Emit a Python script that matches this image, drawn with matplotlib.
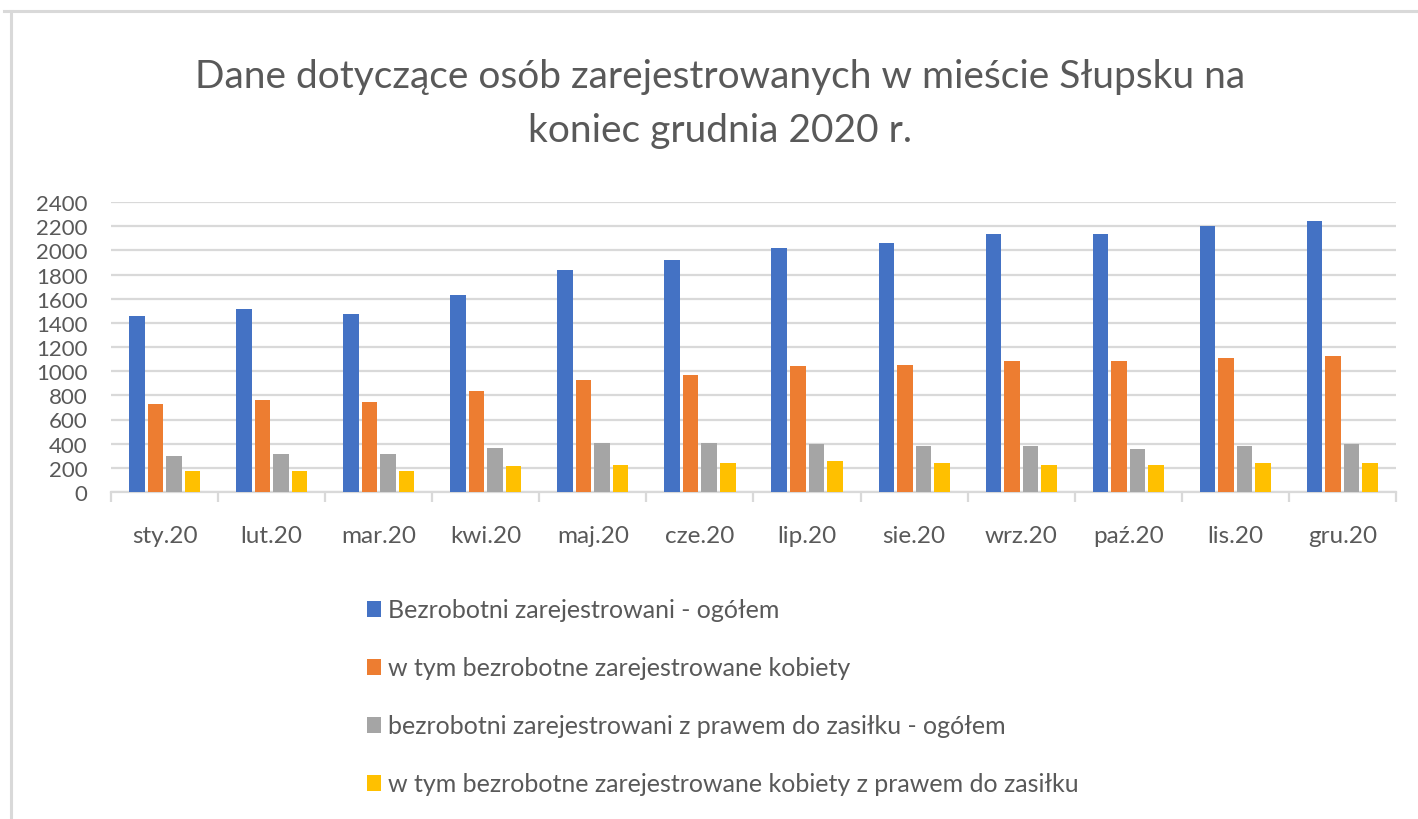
import matplotlib
matplotlib.use("Agg")
import matplotlib.pyplot as plt
from matplotlib.lines import Line2D
import numpy as np
from matplotlib import font_manager

names = {f.name for f in font_manager.fontManager.ttflist}
fam = [f for f in ["Lato", "DejaVu Sans"] if f in names]
plt.rcParams['font.family'] = fam

months = ["sty.20", "lut.20", "mar.20", "kwi.20", "maj.20", "cze.20",
          "lip.20", "sie.20", "wrz.20", "paź.20", "lis.20", "gru.20"]
ogolem = [1460, 1518, 1474, 1628, 1839, 1921, 2018, 2062, 2134, 2134, 2201, 2242]
kobiety = [730, 760, 746, 832, 929, 970, 1040, 1053, 1081, 1081, 1109, 1122]
zasilek = [296, 312, 312, 368, 409, 409, 395, 382, 382, 354, 382, 395]
kobiety_zasilek = [171, 171, 171, 213, 227, 240, 254, 240, 227, 227, 240, 240]

labels = ["Bezrobotni zarejestrowani - ogółem",
          "w tym bezrobotne zarejestrowane kobiety",
          "bezrobotni zarejestrowani z prawem do zasiłku - ogółem",
          "w tym bezrobotne zarejestrowane kobiety z prawem do zasiłku"]
colors = ["#4472C4", "#ED7D31", "#A5A5A5", "#FFC000"]
series = [ogolem, kobiety, zasilek, kobiety_zasilek]
title = "Dane dotyczące osób zarejestrowanych w mieście Słupsku na\nkoniec grudnia 2020 r."

W, H = 1418, 820
fig = plt.figure(figsize=(W / 100, H / 100), dpi=100)
ax = fig.add_axes([111 / W, 1 - 493 / H, (1396 - 111) / W, (493 - 203) / H])

x = np.arange(len(months))
step = 0.173
bw = 0.145
handles = []
for i, (vals, c, lab) in enumerate(zip(series, colors, labels)):
    h = ax.bar(x + (i - 1.5) * step, vals, width=bw, color=c, label=lab, zorder=3)
    handles.append(h)

ax.set_xlim(-0.5, len(months) - 0.5)
ax.set_ylim(0, 2400)
ax.set_yticks(np.arange(0, 2401, 200))
ax.yaxis.grid(True, color="#d9d9d9", linewidth=1.6, zorder=0)
ax.set_axisbelow(True)
for s in ["top", "right", "left"]:
    ax.spines[s].set_visible(False)
ax.spines["bottom"].set_color("#d9d9d9")
ax.spines["bottom"].set_linewidth(1.6)
ax.tick_params(axis="y", length=0, labelsize=16, labelcolor="#595959", pad=17)
ax.set_xticks(x)
ax.set_xticklabels(months)
ax.tick_params(axis="x", which="major", length=0, labelsize=17.5, labelcolor="#595959", pad=24)
ax.set_xticks(np.arange(-0.5, len(months), 1), minor=True)
ax.tick_params(axis="x", which="minor", length=7, width=1.6, color="#d9d9d9")

fig.text(720 / W, 1 - 104 / H, title, ha="center", va="center", fontsize=28,
         color="#595959", linespacing=1.62)

leg = fig.legend(handles=handles, labels=labels, loc="upper left",
                 bbox_to_anchor=(344 / W, 1 - 577 / H), frameon=False,
                 fontsize=18, labelcolor="#595959", handlelength=0.56,
                 handleheight=0.6, handletextpad=0.3, labelspacing=1.4)

fig.add_artist(Line2D([4 / W, 1], [1 - 12 / H, 1 - 12 / H], color="#d9d9d9", linewidth=2.2))
fig.add_artist(Line2D([10.5 / W, 10.5 / W], [0, 1 - 12 / H], color="#d9d9d9", linewidth=2.2))

fig.savefig("out.png", dpi=100)
